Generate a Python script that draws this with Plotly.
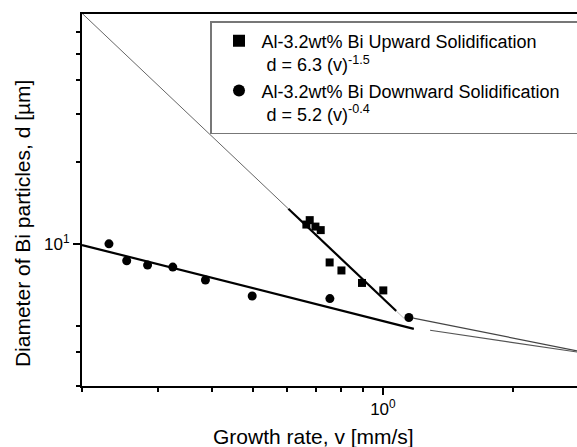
import plotly.graph_objects as go

# ---- data ----
up_v = [0.664, 0.676, 0.697, 0.717, 0.752, 0.801, 0.894, 1.002]
up_d = [11.77, 12.22, 11.57, 11.23, 8.54, 7.98, 7.18, 6.74]

down_v = [0.231, 0.254, 0.284, 0.325, 0.387, 0.497, 0.753, 1.149]
down_d = [10.0, 8.66, 8.35, 8.21, 7.36, 6.43, 6.29, 5.36]

# power-law fits quoted in the legend: d = a * v**b
up_fit = (6.3, -1.5)
down_fit = (5.2, -0.4)
up_thin_v = [0.2, 0.603]
up_thick_v = [0.603, 1.074]
up_tail_v = [1.074, 1.13]
down_thick_v = [0.2, 1.18]

# two further thin fit lines at the right edge (end points)
extra_a_v = [1.176, 2.824]
extra_a_d = [5.33, 4.04]
extra_b_v = [1.287, 2.824]
extra_b_d = [4.81, 4.00]

x_major = [1]
x_major_text = ["10<sup>0</sup>"]
x_minor = [0.2, 0.3, 0.4, 0.5, 0.6, 0.7, 0.8, 0.9, 2]
y_major = [10]
y_major_text = ["10<sup>1</sup>"]
y_minor = [3, 4, 5, 20, 30, 40, 50, 60]


def power(v_list, fit):
    a, b = fit
    return [a * v ** b for v in v_list]


FONT = "Liberation Sans, Arial, sans-serif"

fig = go.Figure()

thin = dict(color="#666666", width=1)
thick = dict(color="black", width=2.2)

fig.add_trace(go.Scatter(x=up_thin_v, y=power(up_thin_v, up_fit), mode="lines",
                         line=thin, showlegend=False, hoverinfo="skip"))
fig.add_trace(go.Scatter(x=up_thick_v, y=power(up_thick_v, up_fit), mode="lines",
                         line=thick, showlegend=False, hoverinfo="skip"))
fig.add_trace(go.Scatter(x=up_tail_v, y=power(up_tail_v, up_fit), mode="lines",
                         line=dict(color="#bbbbbb", width=1), showlegend=False, hoverinfo="skip"))
fig.add_trace(go.Scatter(x=down_thick_v, y=power(down_thick_v, down_fit), mode="lines",
                         line=thick, showlegend=False, hoverinfo="skip"))
fig.add_trace(go.Scatter(x=extra_a_v, y=extra_a_d, mode="lines",
                         line=dict(color="#444444", width=1.2), showlegend=False, hoverinfo="skip"))
fig.add_trace(go.Scatter(x=extra_b_v, y=extra_b_d, mode="lines",
                         line=dict(color="#555555", width=1.2), showlegend=False, hoverinfo="skip"))

fig.add_trace(go.Scatter(
    x=up_v, y=up_d, mode="markers",
    marker=dict(symbol="square", size=8, color="black"),
    name="Al-3.2wt% Bi Upward Solidification<br>&nbsp;d = 6.3 (v)<sup>-1.5</sup>"))
fig.add_trace(go.Scatter(
    x=down_v, y=down_d, mode="markers",
    marker=dict(symbol="circle", size=9, color="black"),
    name="Al-3.2wt% Bi Downward Solidification&nbsp;&nbsp;&nbsp;<br>&nbsp;d = 5.2 (v)<sup>-0.4</sup>"))

fig.update_layout(
    width=577, height=447,
    margin=dict(l=82, r=0, t=14, b=61, autoexpand=False),
    paper_bgcolor="white", plot_bgcolor="white",
    font=dict(family=FONT, color="black", size=17),
    showlegend=True,
    legend=dict(x=0.2586, y=0.981, xanchor="left", yanchor="top",
                bgcolor="white", bordercolor="#777777", borderwidth=1.5,
                font=dict(family=FONT, size=18), valign="top",
                tracegroupgap=0, itemsizing="constant",
                indentation=5, itemwidth=35),
)

fig.update_xaxes(
    type="log", range=[-0.699, 0.4508],
    showline=True, linecolor="black", linewidth=2, mirror=True,
    showgrid=False, zeroline=False,
    tickmode="array", tickvals=x_major, ticktext=x_major_text,
    ticks="outside", ticklen=7, tickwidth=1.5, tickcolor="black",
    tickfont=dict(size=17, family=FONT),
    minor=dict(tickmode="array", tickvals=x_minor, ticks="outside",
               ticklen=4, tickwidth=1.5, tickcolor="black", showgrid=False),
)
fig.update_yaxes(
    type="log", range=[0.47712, 1.845098],
    showline=True, linecolor="black", linewidth=2,
    showgrid=False, zeroline=False,
    tickmode="array", tickvals=y_major, ticktext=y_major_text,
    ticks="outside", ticklen=7, tickwidth=1.5, tickcolor="black",
    tickfont=dict(size=17, family=FONT),
    minor=dict(tickmode="array", tickvals=y_minor, ticks="outside",
               ticklen=4, tickwidth=1.5, tickcolor="black", showgrid=False),
)

fig.add_annotation(text="Growth rate, v [mm/s]", xref="paper", yref="paper",
                   x=0.4677, y=-0.137, xanchor="center", yanchor="middle",
                   showarrow=False, font=dict(size=21, family=FONT))
fig.add_annotation(text="Diameter of Bi particles, d [\u00b5m]", xref="paper", yref="paper",
                   x=-0.1212, y=0.438, xanchor="center", yanchor="middle",
                   textangle=-90, showarrow=False, font=dict(size=21, family=FONT))

fig.write_html("out.html")
